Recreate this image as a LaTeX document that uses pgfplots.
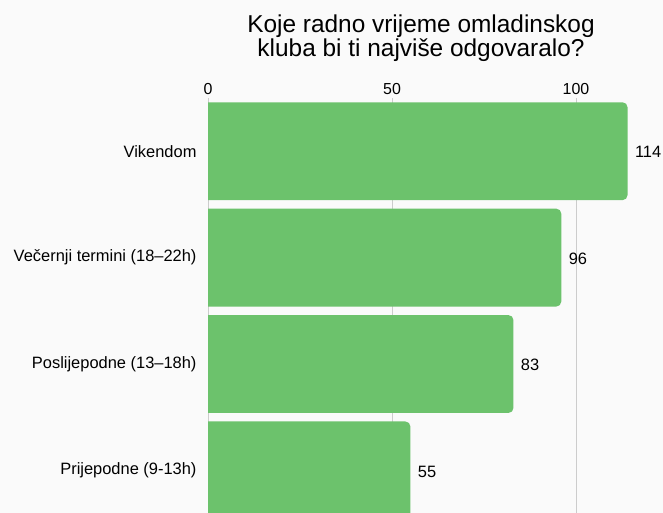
\documentclass[border=0pt]{standalone}
\usepackage{pgfplots}
\pgfplotsset{compat=1.18}
\usepackage{fontspec}
\setmainfont{Liberation Sans}
\definecolor{bargreen}{RGB}{108,194,108}
\definecolor{bg}{RGB}{250,250,250}
\definecolor{gridc}{RGB}{204,204,204}
\begin{document}
\begin{tikzpicture}[x=1bp,y=1bp]
\fill[bg] (0,0) rectangle (663,513);
\useasboundingbox (0,0) rectangle (663,513);
\node[align=center, font=\fontsize{24.5}{21}\selectfont] at (421,474.5) {Koje radno vrijeme omladinskog\\kluba bi ti najviše odgovaralo?};
\begin{axis}[
  at={(208bp,0bp)}, anchor=south west,
  width=455bp, height=415bp, scale only axis,
  xmin=0, xmax=123.64, ymin=-0.5, ymax=3.4, y dir=reverse,
  axis line style={draw=none},
  xtick={0,50,100}, xticklabel pos=upper,
  xmajorgrids, grid style={gridc, line width=0.9bp},
  major tick length=0pt,
  ytick={0,1,2,3},
  yticklabels={Vikendom, Večernji termini (18–22h), Poslijepodne (13–18h), Prijepodne (9-13h)},
  xticklabel style={font=\fontsize{16}{18}\selectfont},
  yticklabel style={font=\fontsize{16.5}{18}\selectfont, xshift=-8bp},
  /pgf/number format/assume math mode=true,
]
\addplot[fill=bargreen, draw=none, rounded corners=5bp] coordinates {(-10,-0.46) (114,-0.46) (114,0.46) (-10,0.46)} --cycle;
\addplot[fill=bargreen, draw=none, rounded corners=5bp] coordinates {(-10,0.54) (96,0.54) (96,1.46) (-10,1.46)} --cycle;
\addplot[fill=bargreen, draw=none, rounded corners=5bp] coordinates {(-10,1.54) (83,1.54) (83,2.46) (-10,2.46)} --cycle;
\addplot[fill=bargreen, draw=none, rounded corners=5bp] coordinates {(-10,2.54) (55,2.54) (55,3.46) (-10,3.46)} --cycle;
\addplot[draw=none, nodes near coords, point meta=x,
  nodes near coords style={anchor=west, xshift=4bp, yshift=-1bp, font=\fontsize{16.5}{18}\selectfont}]
  coordinates {(114,0) (96,1) (83,2) (55,3)};
\end{axis}
\end{tikzpicture}
\end{document}
